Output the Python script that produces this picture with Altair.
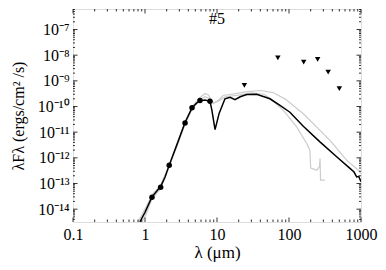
import altair as alt
import pandas as pd
import json

# ---- data ----
PHOT_WAV = [1.25, 1.65, 2.17, 3.6, 4.5, 5.8, 8.0]
PHOT_FLUX = [2.9e-14, 7.1e-14, 5.1e-13, 2.3e-11, 8.9e-11, 1.7e-10, 1.6e-10]

LIM_WAV = [24, 70, 160, 250, 350, 500]
LIM_FLUX = [6.6e-10, 7.8e-9, 5.4e-9, 6.8e-9, 2.2e-9, 5.0e-10]

MODEL_WAV = [0.85, 1.0, 1.25, 1.45, 1.65, 1.9, 2.17, 2.8, 3.6, 4.5, 5.2, 5.8, 6.8, 8.0,
             8.5, 9.4, 10.7, 12.9, 15.2, 17.8, 21, 25.9, 35.5, 54.4, 75, 103, 158,
             269, 459, 703, 800, 870, 930, 1000]
MODEL_FLUX = [3.2e-15, 7.5e-15, 3.0e-14, 5.0e-14, 7.6e-14, 1.8e-13, 5.2e-13, 3.5e-12,
              2.4e-11, 8.9e-11, 1.35e-10, 1.66e-10, 1.8e-10, 1.6e-10, 7.1e-11, 1.26e-11,
              5.4e-11, 2.0e-10, 2.3e-10, 1.86e-10, 2.4e-10, 2.95e-10, 3.0e-10, 2.0e-10,
              1.1e-10, 6.0e-11, 1.7e-11, 4.2e-12, 1.1e-12, 3.9e-13, 2.8e-13, 1.8e-13,
              1.9e-13, 1.17e-13]

GRAY1_WAV = [0.80, 1.0, 1.25, 1.65, 2.17, 3.6, 4.5, 5.8, 6.8, 7.6, 8.9, 10.5, 12.2, 18,
             26, 40, 60, 90, 158, 371, 632, 917, 1000]
GRAY1_FLUX = [3.2e-15, 1.0e-14, 3.5e-14, 8.9e-14, 5.0e-13, 2.5e-11, 1.0e-10, 2.2e-10,
              3.2e-10, 2.8e-10, 1.3e-10, 1.8e-10, 2.7e-10, 3.2e-10, 3.8e-10, 4.2e-10,
              3.5e-10, 1.9e-10, 5.2e-11, 4.8e-12, 8.1e-13, 3.3e-13, 2.4e-13]

GRAY2_WAV = [0.9, 1.0, 1.25, 1.65, 2.17, 3.6, 4.5, 5.8, 6.8, 8.0, 9.0, 10.5, 13, 20, 30,
             45, 54, 83.5, 128, 176, 195, 200, 207, 243, 265, 270, 274, 316]
GRAY2_FLUX = [3.2e-15, 5.0e-15, 2.5e-14, 6.3e-14, 4.5e-13, 2.0e-11, 7.9e-11, 1.8e-10,
              2.4e-10, 2.0e-10, 1.4e-10, 1.6e-10, 2.4e-10, 2.8e-10, 3.4e-10, 3.0e-10,
              2.1e-10, 7.1e-11, 1.6e-11, 3.6e-12, 2.0e-12, 4.0e-13, 3.9e-13, 3.3e-13,
              4.5e-13, 9.3e-13, 1.35e-13, 1.35e-13]

X_TICKS = [0.1, 1, 10, 100, 1000]
X_MINOR = [m * d for d in [0.1, 1, 10, 100] for m in range(2, 10)]
Y_TICKS = [1e-7, 1e-8, 1e-9, 1e-10, 1e-11, 1e-12, 1e-13, 1e-14]
Y_TICK_LABELS = ["10⁻⁷", "10⁻⁸", "10⁻⁹", "10⁻¹⁰", "10⁻¹¹", "10⁻¹²", "10⁻¹³", "10⁻¹⁴"]
Y_MINOR = [m * d for d in [1e-15, 1e-14, 1e-13, 1e-12, 1e-11, 1e-10, 1e-9, 1e-8, 1e-7]
           for m in range(2, 10)]
Y_MINOR = [v for v in Y_MINOR if 3.2e-15 < v < 6.3e-7]

W, H = 288, 213
FONT = "Liberation Serif"

xscale = alt.Scale(type="log", domain=[0.1, 1000], nice=False)
yscale = alt.Scale(type="log", domain=[3.16e-15, 6.31e-7], nice=False)

label_expr = json.dumps(Y_TICK_LABELS, ensure_ascii=False) + "[round(-log(datum.value)/LN10) - 7]"

xaxis = alt.Axis(values=X_TICKS, format="~g", ticks=False, domain=False, grid=False,
                 labelFont=FONT, labelFontSize=16, labelColor="black", labelPadding=4,
                 title="λ (μm)", titleFont=FONT, titleFontSize=17, titleFontWeight="normal",
                 titleColor="black", titlePadding=2, labelFlush=False)
yaxis = alt.Axis(values=Y_TICKS, labelExpr=label_expr, ticks=False, domain=False, grid=False,
                 labelFont=FONT, labelFontSize=16, labelColor="black", labelPadding=4,
                 title="λFλ (ergs/cm² /s)", titleFont=FONT, titleFontSize=16,
                 titleFontWeight="normal", titleColor="black", titleX=-47, labelFlush=False)

X = lambda f: alt.X(f, scale=xscale, axis=xaxis)
Y = lambda f: alt.Y(f, scale=yscale, axis=yaxis)

def line_df(w, f):
    return pd.DataFrame({"w": w, "f": f})

model = alt.Chart(line_df(MODEL_WAV, MODEL_FLUX)).mark_line(color="black", strokeWidth=1.5, clip=True).encode(
    x=X("w:Q"), y=Y("f:Q"))
gray1 = alt.Chart(line_df(GRAY1_WAV, GRAY1_FLUX)).mark_line(color="#cccccc", strokeWidth=1.2, clip=True).encode(
    x=X("w:Q"), y=Y("f:Q"))
gray2 = alt.Chart(line_df(GRAY2_WAV, GRAY2_FLUX)).mark_line(color="#cccccc", strokeWidth=1.2, clip=True).encode(
    x=X("w:Q"), y=Y("f:Q"))
phot = alt.Chart(line_df(PHOT_WAV, PHOT_FLUX)).mark_point(shape="circle", filled=True, color="black",
                                                          size=30, opacity=1).encode(
    x=X("w:Q"), y=Y("f:Q"))
lims = alt.Chart(line_df(LIM_WAV, LIM_FLUX)).mark_point(shape="triangle-down", filled=True, color="black",
                                                        size=30, opacity=1).encode(
    x=X("w:Q"), y=Y("f:Q"))

def xticks(vals, length):
    df = pd.DataFrame({"v": vals})
    bottom = alt.Chart(df).mark_rule(color="black", strokeWidth=0.8).encode(
        x=X("v:Q"), y=alt.value(H), y2=alt.value(H - length))
    top = alt.Chart(df).mark_rule(color="black", strokeWidth=0.8).encode(
        x=X("v:Q"), y=alt.value(0), y2=alt.value(length))
    return [bottom, top]

def yticks(vals, length):
    df = pd.DataFrame({"v": vals})
    left = alt.Chart(df).mark_rule(color="black", strokeWidth=0.8).encode(
        y=Y("v:Q"), x=alt.value(0), x2=alt.value(length))
    right = alt.Chart(df).mark_rule(color="black", strokeWidth=0.8).encode(
        y=Y("v:Q"), x=alt.value(W), x2=alt.value(W - length))
    return [left, right]

label = alt.Chart(pd.DataFrame({"t": ["#5"]})).mark_text(
    font=FONT, fontSize=16, color="black", baseline="middle", align="center").encode(
    x=alt.value(W / 2), y=alt.value(10), text="t:N")

layers = [gray1, gray2, model, phot, lims] + xticks(X_TICKS, 4.5) + xticks(X_MINOR, 2.5) \
    + yticks(Y_TICKS, 4.5) + yticks(Y_MINOR, 2) + [label]

chart = alt.layer(*layers).properties(
    width=W, height=H,
    padding={"left": 65, "top": 1, "right": 17, "bottom": 40},
    autosize=alt.AutoSizeParams(type="none"),
).configure_view(stroke="black", strokeWidth=1).configure(background="white")

chart.save("out.html", embed_options={"renderer": "svg", "actions": False})
